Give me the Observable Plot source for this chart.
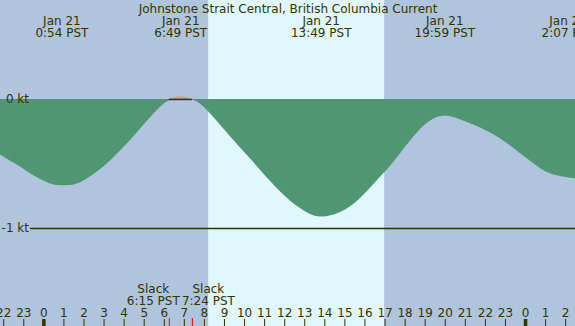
<!DOCTYPE html>
<html>
<head>
<meta charset="utf-8">
<script src="https://cdn.jsdelivr.net/npm/d3@7"></script>
<script src="https://cdn.jsdelivr.net/npm/@observablehq/plot@0.6"></script>
<style>
  html, body { margin: 0; padding: 0; background: #b0c4de; }
</style>
</head>
<body>
<div id="chart"></div>
<script>
// ---- data (hours from midnight Jan 21, PST) ----
const title = "Johnstone Strait Central, British Columbia Current";
const currentHours = [-2.16, -1.66, -1.16, -0.66, -0.16, 0.33, 0.83, 1.33, 1.83, 2.33, 2.83, 3.32, 3.82, 4.32, 4.82, 5.32, 5.81, 6.25, 6.82, 7.4, 7.81, 8.31, 9.3, 10.3, 11.3, 12.3, 13.29, 13.82, 14.78, 15.78, 16.78, 17.03, 17.27, 17.77, 18.27, 18.77, 19.27, 19.77, 20.26, 20.76, 21.26, 21.76, 22.26, 22.76, 23.25, 23.75, 24.25, 24.75, 25.25, 25.75, 26.49];
const currentKt    = [-0.43, -0.48, -0.52, -0.58, -0.62, -0.66, -0.67, -0.67, -0.65, -0.60, -0.545, -0.48, -0.40, -0.32, -0.23, -0.14, -0.06, 0, 0.02, 0, -0.03, -0.11, -0.29, -0.46, -0.64, -0.80, -0.90, -0.92, -0.89, -0.78, -0.60, -0.56, -0.52, -0.42, -0.32, -0.23, -0.16, -0.13, -0.13, -0.155, -0.19, -0.22, -0.26, -0.305, -0.36, -0.42, -0.48, -0.54, -0.58, -0.60, -0.615];
const extremeHours = [0.9, 6.82, 13.82, 19.98, 26.12];
const extremeDates = ["Jan 21", "Jan 21", "Jan 21", "Jan 21", "Jan 22"];
const extremeTimes = ["0:54 PST", "6:49 PST", "13:49 PST", "19:59 PST", "2:07 PST"];
const slackHours = [6.25, 7.4];
const slackTimes = ["6:15 PST", "7:24 PST"];
const sunrise = 8.21, sunset = 16.98;
const hourTicks = d3.range(-2, 27);
const midnightTicks = [0, 24];
const levelKt = [0, -1];
const levelLabels = ["0 kt", "-1 kt"];

const series = currentHours.map((h, i) => ({h, v: currentKt[i]}));
const extremes = extremeHours.map((h, i) => ({h, label: extremeDates[i] + "\n" + extremeTimes[i]}));
const slacks = slackHours.map((h, i) => ({h, label: "Slack\n" + slackTimes[i]}));
const levels = levelKt.map((v, i) => ({v, label: levelLabels[i]}));

const ink = "#333300";
const chart = Plot.plot({
  width: 575,
  height: 326,
  marginTop: 0, marginRight: 0, marginBottom: 0, marginLeft: 0,
  style: {background: "#b0c4de", fontFamily: "DejaVu Sans", fontSize: "12px", color: ink},
  x: {domain: [-2.16, 26.49], axis: null},
  y: {domain: [-1.76, 0.767], axis: null},
  marks: [
    Plot.rect([{a: sunrise, b: sunset}], {x1: "a", x2: "b", fill: "#e0f7ff"}),
    Plot.areaY(series, {x: "h", y: d => Math.min(d.v, 0), fill: "#519672", curve: "basis"}),
    Plot.areaY(series.filter(d => d.h >= slackHours[0] && d.h <= slackHours[1]), {x: "h", y: "v", fill: "#c8a47c", curve: "catmull-rom"}),
    Plot.ruleY([0], {x1: slackHours[0], x2: slackHours[1], stroke: ink, strokeWidth: 1.5}),
    Plot.ruleY([-1], {insetLeft: 30, stroke: ink, strokeWidth: 1.5}),
    Plot.text(levels, {y: "v", text: "label", frameAnchor: "left", dx: 28.5, textAnchor: "end"}),
    Plot.text([title], {text: d => d, frameAnchor: "top", lineAnchor: "bottom", dy: 12}),
    Plot.text(extremes, {x: "h", text: "label", frameAnchor: "top", lineAnchor: "bottom", dy: 36}),
    Plot.ruleX(hourTicks, {x: d => d, insetTop: 319, stroke: ink, strokeWidth: 1}),
    Plot.ruleX(midnightTicks, {x: d => d, insetTop: 319, stroke: ink, strokeWidth: 3.5}),
    Plot.ruleX(slackHours, {x: d => d, insetTop: 318, stroke: "#ff0000", strokeWidth: 1}),
    Plot.text(hourTicks, {x: d => d, text: d => String(((d % 24) + 24) % 24), frameAnchor: "bottom", lineAnchor: "bottom", dy: -10}),
    Plot.text(slacks.slice(0, 1), {x: "h", text: "label", frameAnchor: "bottom", lineAnchor: "bottom", dy: -22, dx: -16}),
    Plot.text(slacks.slice(1, 2), {x: "h", text: "label", frameAnchor: "bottom", lineAnchor: "bottom", dy: -22, dx: 16})
  ]
});
document.getElementById("chart").appendChild(chart);
</script>
</body>
</html>
